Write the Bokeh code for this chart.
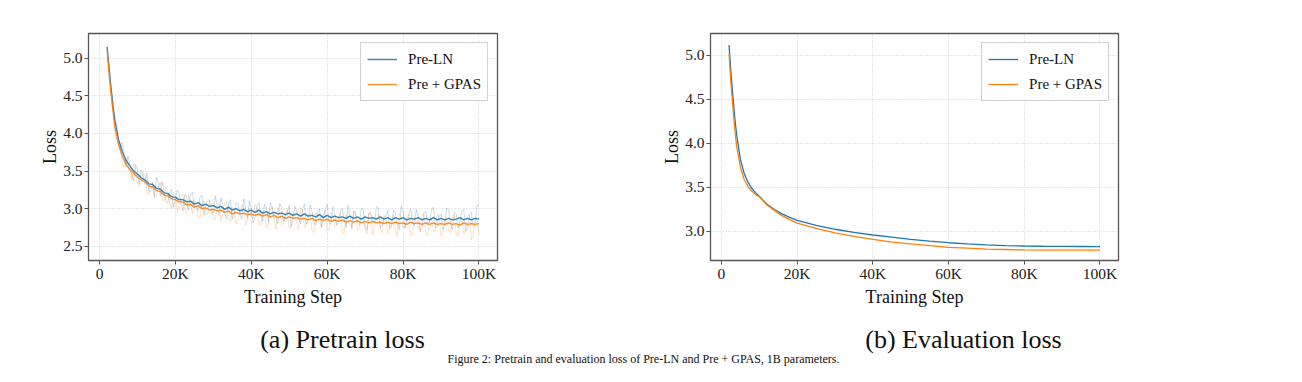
from bokeh.plotting import figure
from bokeh.layouts import row, column
from bokeh.models import Range1d, FixedTicker, Legend, LegendItem
from bokeh.core.properties import value
from bokeh.embed import file_html
from bokeh.resources import INLINE

# ---------------- data ----------------
steps = list(range(2000, 100001, 1000))          # whole-K logging steps
half_steps = list(range(2500, 100000, 1000))     # in-between logging steps

# pretrain loss (smoothed lines)
pre_ln_train = [5.15, 4.62, 4.18, 3.92, 3.76, 3.64, 3.57, 3.50, 3.46, 3.41,
                3.38, 3.33, 3.32, 3.27, 3.26, 3.21, 3.20, 3.16, 3.15, 3.12,
                3.12, 3.09, 3.10, 3.06, 3.08, 3.04, 3.06, 3.03, 3.04, 3.01,
                3.03, 2.99, 3.02, 2.98, 3.00, 2.97, 2.99, 2.96, 2.98, 2.95,
                2.98, 2.94, 2.96, 2.93, 2.95, 2.93, 2.94, 2.92, 2.94, 2.91,
                2.93, 2.90, 2.93, 2.90, 2.91, 2.89, 2.92, 2.88, 2.91, 2.88,
                2.90, 2.88, 2.89, 2.87, 2.90, 2.87, 2.89, 2.86, 2.89, 2.87,
                2.88, 2.86, 2.89, 2.86, 2.88, 2.85, 2.88, 2.86, 2.88, 2.85,
                2.87, 2.86, 2.88, 2.85, 2.87, 2.85, 2.88, 2.85, 2.87, 2.85,
                2.87, 2.85, 2.86, 2.88, 2.85, 2.87, 2.85, 2.87, 2.86]
gpas_train = [5.10, 4.55, 4.10, 3.86, 3.70, 3.59, 3.52, 3.47, 3.42, 3.38,
              3.36, 3.30, 3.29, 3.24, 3.23, 3.18, 3.17, 3.13, 3.12, 3.09,
              3.09, 3.05, 3.06, 3.02, 3.04, 3.00, 3.01, 2.98, 2.99, 2.97,
              2.98, 2.95, 2.97, 2.93, 2.95, 2.93, 2.94, 2.92, 2.93, 2.91,
              2.93, 2.90, 2.92, 2.89, 2.91, 2.88, 2.90, 2.87, 2.89, 2.87,
              2.88, 2.86, 2.87, 2.85, 2.87, 2.84, 2.86, 2.84, 2.86, 2.83,
              2.85, 2.83, 2.85, 2.82, 2.84, 2.82, 2.84, 2.81, 2.83, 2.81,
              2.83, 2.81, 2.82, 2.80, 2.82, 2.80, 2.82, 2.80, 2.81, 2.79,
              2.82, 2.80, 2.81, 2.79, 2.81, 2.79, 2.81, 2.79, 2.80, 2.79,
              2.81, 2.79, 2.80, 2.78, 2.81, 2.79, 2.80, 2.79, 2.80]

# pretrain loss (raw, unsmoothed, drawn faint) at whole-K steps
pre_ln_raw = [5.18, 4.55, 4.26, 3.88, 3.88, 3.55, 3.59, 3.37, 3.52, 3.51,
              3.33, 3.23, 3.35, 3.42, 3.17, 3.23, 3.07, 3.26, 3.11, 3.20,
              2.97, 3.15, 3.20, 3.01, 2.97, 3.18, 3.03, 3.12, 2.94, 3.05,
              3.14, 2.93, 3.06, 2.86, 3.08, 2.94, 3.13, 2.87, 2.99, 2.88,
              3.08, 2.83, 3.01, 3.08, 2.89, 2.80, 3.01, 2.92, 3.04, 2.84,
              2.96, 2.80, 3.06, 2.85, 2.97, 2.78, 3.00, 2.86, 3.06, 2.79,
              2.94, 2.82, 3.00, 2.75, 2.91, 2.97, 2.82, 3.00, 2.77, 2.94,
              2.83, 3.03, 2.75, 2.89, 2.98, 2.77, 2.94, 2.72, 2.97, 2.82,
              3.00, 2.77, 2.90, 2.73, 2.96, 2.83, 3.02, 2.75, 2.93, 2.77,
              2.98, 2.72, 2.93, 2.83, 2.99, 2.73, 2.96, 2.79, 3.04]
gpas_raw = [5.06, 4.64, 4.04, 3.91, 3.59, 3.67, 3.49, 3.59, 3.33, 3.36,
            3.45, 3.18, 3.34, 3.18, 3.35, 3.09, 3.19, 3.00, 3.19, 3.05,
            3.19, 2.94, 3.07, 3.12, 2.88, 3.06, 2.92, 3.11, 2.87, 3.02,
            2.84, 3.06, 2.90, 3.02, 2.80, 2.95, 3.04, 2.84, 2.90, 3.05,
            2.80, 2.97, 2.75, 2.99, 2.85, 3.01, 2.79, 2.91, 2.74, 2.96,
            2.80, 3.01, 2.75, 2.89, 2.71, 2.95, 2.82, 2.92, 2.72, 2.95,
            2.76, 2.89, 2.68, 2.92, 2.78, 2.96, 2.71, 2.85, 2.73, 2.94,
            2.65, 2.88, 2.73, 2.92, 2.67, 2.86, 2.70, 2.94, 2.75, 2.89,
            2.63, 2.89, 2.74, 2.91, 2.67, 2.83, 2.70, 2.92, 2.63, 2.87,
            2.71, 2.89, 2.66, 2.85, 2.67, 2.89, 2.59, 2.85, 2.65]

# pretrain loss (raw) at the in-between steps
pre_ln_raw_half = [4.90, 4.32, 4.11, 3.78, 3.73, 3.70, 3.45, 3.59, 3.31, 3.45,
                   3.48, 3.23, 3.16, 3.35, 3.36, 3.10, 3.22, 3.02, 3.25, 3.06,
                   3.19, 2.98, 3.22, 3.03, 3.16, 2.92, 3.10, 2.95, 3.17, 2.91,
                   3.04, 2.86, 3.12, 2.93, 3.07, 2.86, 3.02, 3.10, 2.81, 3.03,
                   2.92, 3.06, 2.82, 3.03, 2.87, 3.07, 2.83, 2.95, 2.76, 3.03,
                   2.86, 2.99, 2.79, 3.05, 2.81, 2.94, 2.75, 2.99, 2.83, 3.02,
                   2.78, 2.95, 2.85, 3.04, 2.75, 2.93, 2.78, 3.00, 2.72, 2.95,
                   2.81, 3.01, 2.77, 2.90, 2.74, 2.98, 2.79, 3.03, 2.74, 2.92,
                   2.82, 2.99, 2.71, 2.95, 2.78, 2.98, 2.75, 2.91, 2.72, 3.01,
                   2.80, 2.95, 2.74, 2.97, 2.70, 2.93, 2.77, 3.05]
gpas_raw_half = [4.76, 4.39, 3.93, 3.87, 3.56, 3.59, 3.38, 3.53, 3.36, 3.48,
                 3.23, 3.36, 3.13, 3.27, 3.11, 3.29, 3.09, 3.22, 2.96, 3.15,
                 2.98, 3.18, 2.93, 3.06, 2.87, 3.10, 2.93, 3.06, 2.85, 3.08,
                 2.92, 3.10, 2.83, 2.99, 2.85, 3.05, 2.78, 3.00, 2.87, 3.02,
                 2.78, 2.95, 2.80, 3.03, 2.73, 2.95, 2.80, 2.99, 2.76, 2.90,
                 2.73, 2.98, 2.79, 2.95, 2.68, 2.90, 2.75, 2.98, 2.72, 2.91,
                 2.79, 2.94, 2.68, 2.87, 2.72, 2.96, 2.74, 2.88, 2.66, 2.92,
                 2.76, 2.93, 2.68, 2.86, 2.72, 2.92, 2.63, 2.88, 2.74, 2.92,
                 2.67, 2.84, 2.69, 2.93, 2.64, 2.87, 2.71, 2.90, 2.66, 2.85,
                 2.68, 2.91, 2.63, 2.88, 2.70, 2.92, 2.65, 2.86]

# evaluation loss
eval_steps = [2000, 2500, 3000, 3500, 4000, 5000, 6000, 7000, 8000, 9000, 10000,
              12000, 14000, 16000, 18000, 20000, 25000, 30000, 35000, 40000,
              45000, 50000, 55000, 60000, 65000, 70000, 75000, 80000, 85000,
              90000, 95000, 100000]
pre_ln_eval = [5.12, 4.80, 4.55, 4.30, 4.10, 3.82, 3.66, 3.56, 3.49, 3.44, 3.40,
               3.31, 3.25, 3.20, 3.16, 3.125, 3.07, 3.025, 2.99, 2.96,
               2.935, 2.91, 2.89, 2.872, 2.858, 2.848, 2.84, 2.835, 2.832,
               2.83, 2.829, 2.828]
gpas_eval = [5.02, 4.68, 4.42, 4.18, 3.97, 3.73, 3.59, 3.51, 3.46, 3.42, 3.395,
             3.30, 3.24, 3.18, 3.135, 3.095, 3.035, 2.985, 2.945, 2.91,
             2.88, 2.86, 2.84, 2.82, 2.81, 2.80, 2.795, 2.79, 2.789,
             2.788, 2.787, 2.787]

series_names = ["Pre-LN", "Pre + GPAS"]
x_ticks = [0, 20000, 40000, 60000, 80000, 100000]
x_tick_labels = ["0", "20K", "40K", "60K", "80K", "100K"]
y_ticks_train = [2.5, 3.0, 3.5, 4.0, 4.5, 5.0]
y_ticks_eval = [3.0, 3.5, 4.0, 4.5, 5.0]
x_label = "Training Step"
y_label = "Loss"
captions = ["(a) Pretrain loss", "(b) Evaluation loss"]
fig_caption = "Figure 2: Pretrain and evaluation loss of Pre-LN and Pre + GPAS, 1B parameters."

# ---------------- style ----------------
BLUE = "#1f77b4"
ORANGE = "#ff7f0e"
FONT = "Liberation Serif"
TICK_FS = "15.5px"
LABEL_FS = "18px"
PLOT_H = 311


def merge(a_steps, a_vals, b_steps, b_vals):
    pts = sorted(zip(list(a_steps) + list(b_steps), list(a_vals) + list(b_vals)))
    return [s for s, _ in pts], [v for _, v in pts]


def make_plot(y_start, y_end, y_ticks, border_left, frame_w, width):
    p = figure(width=width, height=PLOT_H, output_backend="svg", toolbar_location=None,
               x_range=Range1d(-2900, 104900), y_range=Range1d(y_start, y_end),
               min_border_left=border_left, min_border_right=width - border_left - frame_w,
               min_border_top=33, min_border_bottom=PLOT_H - 260)
    p.background_fill_color = "white"
    p.border_fill_color = "white"
    p.outline_line_color = "#555555"
    p.outline_line_width = 1.3
    for ax in (p.xaxis[0], p.yaxis[0]):
        ax.axis_line_color = None
        ax.major_tick_line_color = "#555555"
        ax.major_tick_in = 0
        ax.major_tick_out = 4
        ax.minor_tick_line_color = None
        ax.major_label_text_font = FONT
        ax.major_label_text_font_size = TICK_FS
        ax.major_label_text_color = "#222222"
        ax.axis_label_text_font = FONT
        ax.axis_label_text_font_size = LABEL_FS
        ax.axis_label_text_font_style = "normal"
        ax.axis_label_text_color = "#111111"
    p.xaxis.ticker = FixedTicker(ticks=x_ticks)
    p.xaxis.major_label_overrides = {t: l for t, l in zip(x_ticks, x_tick_labels)}
    p.xaxis.major_label_standoff = 0
    p.xaxis.axis_label = x_label
    p.xaxis.axis_label_standoff = 2
    p.yaxis.ticker = FixedTicker(ticks=y_ticks)
    p.yaxis.major_label_overrides = {t: f"{t:.1f}" for t in y_ticks}
    p.yaxis.major_label_standoff = 2
    p.yaxis.axis_label = y_label
    p.yaxis.axis_label_standoff = 0
    for g in (p.xgrid[0], p.ygrid[0]):
        g.grid_line_color = "#b8b8b8"
        g.grid_line_dash = "1 2"
        g.grid_line_width = 0.8
        g.grid_line_alpha = 0.8
    return p


def add_legend(p, renderers):
    items = [LegendItem(label=n, renderers=[r]) for n, r in zip(series_names, renderers)]
    lg = Legend(items=items, location="top_right")
    lg.label_text_font = FONT
    lg.label_text_font_size = "15px"
    lg.label_text_color = "#111111"
    lg.glyph_width = 30
    lg.glyph_height = 20
    lg.label_height = 20
    lg.label_standoff = 11
    lg.padding = 6
    lg.spacing = 5
    lg.margin = 9
    lg.border_line_color = "#cccccc"
    lg.border_line_alpha = 0.9
    lg.background_fill_alpha = 0.85
    p.add_layout(lg)


# left: pretrain loss
p1 = make_plot(2.31, 5.33, y_ticks_train, 88, 409, 617)
bx, by = merge(steps, pre_ln_raw, half_steps, pre_ln_raw_half)
ox, oy = merge(steps, gpas_raw, half_steps, gpas_raw_half)
p1.line(bx, by, color=BLUE, line_width=0.8, alpha=0.3)
p1.line(ox, oy, color=ORANGE, line_width=0.8, alpha=0.3)
r1 = p1.line(steps, pre_ln_train, color=BLUE, line_width=1.4, alpha=0.9)
r2 = p1.line(steps, gpas_train, color=ORANGE, line_width=1.4, alpha=0.9)
add_legend(p1, [r1, r2])

# right: evaluation loss
p2 = make_plot(2.67, 5.25, y_ticks_eval, 93, 408, 669)
r3 = p2.line(eval_steps, pre_ln_eval, color=BLUE, line_width=1.3)
r4 = p2.line(eval_steps, gpas_eval, color=ORANGE, line_width=1.3)
add_legend(p2, [r3, r4])

# captions strip
CAP_H = 366 - PLOT_H
p3 = figure(width=1286, height=CAP_H, output_backend="svg", toolbar_location=None,
            x_range=Range1d(0, 1286), y_range=Range1d(0, CAP_H),
            min_border=0, min_border_left=0, min_border_right=0,
            min_border_top=0, min_border_bottom=0)
p3.axis.visible = False
p3.grid.visible = False
p3.outline_line_color = None
p3.background_fill_color = "white"
p3.border_fill_color = "white"
p3.text(x=[342, 963], y=[CAP_H - 28, CAP_H - 28], text=captions,
        text_align="center", text_baseline="middle",
        text_font=value(FONT), text_font_size="26px", text_color="#111111")
p3.text(x=[643], y=[0.5], text=[fig_caption],
        text_align="center", text_baseline="bottom",
        text_font=value(FONT), text_font_size="12px", text_color="#111111")

layout = column(row(p1, p2), p3)
open("out.html", "w").write(file_html(layout, INLINE))
